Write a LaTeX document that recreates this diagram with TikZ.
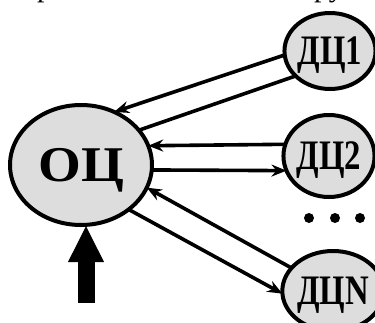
\documentclass[tikz,border=0pt]{standalone}
\usepackage{fontspec}
\usepackage{graphicx}
\setmainfont{Liberation Serif}
\usetikzlibrary{shapes.geometric,arrows.meta}
\definecolor{nodefill}{RGB}{221,221,221}
\begin{document}
\begin{tikzpicture}[x=1pt,y=-1pt,
  hub/.style={ellipse,draw,line width=4pt,fill=nodefill,inner sep=0pt,outer sep=0pt,
    text depth=0pt,font=\bfseries\fontsize{50}{50}\selectfont},
  sat/.style={ellipse,draw,line width=4pt,fill=nodefill,inner sep=0pt,outer sep=0pt,
    text depth=0pt,font=\bfseries\fontsize{42}{42}\selectfont},
  wire/.style={line width=3.6pt},
  link/.style={wire,-{Stealth[length=15pt,width=12pt,inset=5pt]}},
  feedarrow/.style={line width=17pt,-{Triangle[length=37pt,width=33pt]}},
  dot/.style={circle,fill,inner sep=0pt,minimum size=10pt},
  cut/.style={inner sep=0pt,anchor=base west,font=\fontsize{30}{30}\selectfont}]
\useasboundingbox (0,0) rectangle (375,322);

% line of text above, only its descenders fall inside the frame
\begin{scope}
  \clip (0,0) rectangle (375,322);
  \node[cut] (capa) at (37,-3.5) {р};
  \node[cut] (capb) at (314,-3.5) {ру};
\end{scope}

% centre and the remote nodes
\node[hub,minimum width=142pt,minimum height=120pt] (O) at (81,165) {\scalebox{1.1}[1]{ОЦ}};
\node[sat,minimum width=86pt,minimum height=76pt] (D1) at (330,51) {\scalebox{0.78}[1]{ДЦ1}};
\node[sat,minimum width=84pt,minimum height=82pt] (D2) at (329,156) {\scalebox{0.78}[1]{ДЦ2}};
\node[sat,minimum width=84pt,minimum height=80pt] (DN) at (333,291) {\scalebox{0.78}[1]{ДЦN}};

% ellipsis between ДЦ2 and ДЦN
\node[dot] (e1) at (309,218) {};
\node[dot] (e2) at (335,218) {};
\node[dot] (e3) at (360,218) {};

% links
\draw[link] (D1.185) -- (O.58);
\draw[wire] (D1.216) -- (O.31);
\draw[link] (D2.165) -- (O.16);
\draw[link] (O.-4) -- (D2.199);
\draw[link] (DN.151) -- (O.-19);
\draw[link] (O.-43) -- (DN.183);

% input from below
\coordinate (feed) at (86,303);
\draw[feedarrow] (feed) -- (feed |- O.south);
\end{tikzpicture}
\end{document}
